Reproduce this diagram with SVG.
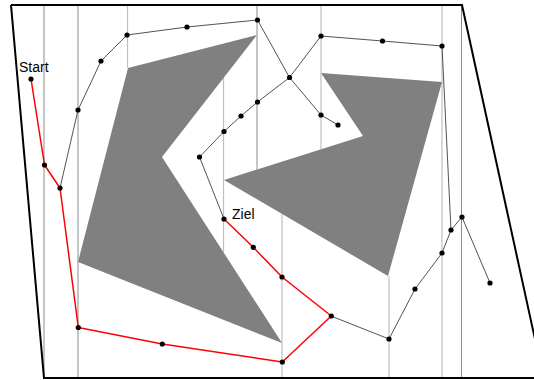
<svg xmlns="http://www.w3.org/2000/svg" width="534" height="380" viewBox="0 0 534 380">
<style>
.vd{stroke:#8c8c8c;stroke-width:1;fill:none}
.vl{stroke:#c0c0c0;stroke-width:1.2;fill:none}
.obs{fill:#808080;stroke:none}
.edge{stroke:#404040;stroke-width:0.9;fill:none}
.path{stroke:#ff0000;stroke-width:1.5;fill:none;stroke-linejoin:round}
.dot{fill:#000}
.lbl{font-family:"Liberation Sans",Arial,sans-serif;font-size:14px;fill:#000}
</style>
<rect width="534" height="380" fill="#fff"/>
<g id="decomposition">
<line class="vd" x1="44" y1="5" x2="44" y2="378"/>
<line class="vd" x1="78" y1="5" x2="78" y2="378"/>
<line class="vl" x1="127.5" y1="5" x2="127.5" y2="68"/>
<line class="vl" x1="223.5" y1="78" x2="223.5" y2="252"/>
<line class="vd" x1="257" y1="5" x2="257" y2="170"/>
<line class="vl" x1="282" y1="214" x2="282" y2="378"/>
<line class="vl" x1="321" y1="5" x2="321" y2="150"/>
<line class="vl" x1="389" y1="276" x2="389" y2="378"/>
<line class="vl" x1="442" y1="5" x2="442" y2="378"/>
<line class="vd" x1="461.5" y1="5" x2="461.5" y2="378"/>
</g>
<g id="obstacle1"><polygon class="obs" points="128,68 257,35 162,157 282,343 78,262"/></g>
<g id="obstacle2"><polygon class="obs" points="321,73 442,82 388,276 224,180 363,136"/></g>
<g id="boundary"><polyline points="11,5 462,5 545,385" fill="none" stroke="#000" stroke-width="2"/><polyline points="11,5 44,378 540,378" fill="none" stroke="#000" stroke-width="2"/></g>
<g id="connectors">
<polyline class="edge" points="60,188 78,110 101,61 127,35 187,27 257.5,20 289.5,77.5 321,115 338,125"/>
<polyline class="edge" points="289.5,77.5 321,36 382.5,41 442,46 451,230 462,217 490,283"/>
<polyline class="edge" points="451,230 442,253 415,289 389,339 331,316"/>
<polyline class="edge" points="289.5,77.5 257.5,102 241,116 224,131.5 199.5,157 224,219"/>
<polyline class="path" points="31,79 44.5,165 60,188 78.3,327.5 162.3,344 282.3,362 331.3,316 282,277 253.3,247.3 224,219"/>
</g>
<g id="nodes">
<circle class="dot" cx="31" cy="79" r="2.6"/>
<circle class="dot" cx="44.5" cy="165" r="2.6"/>
<circle class="dot" cx="60" cy="188" r="2.6"/>
<circle class="dot" cx="78" cy="110" r="2.6"/>
<circle class="dot" cx="101" cy="61" r="2.6"/>
<circle class="dot" cx="127" cy="35" r="2.6"/>
<circle class="dot" cx="187" cy="27" r="2.6"/>
<circle class="dot" cx="257.5" cy="20" r="2.6"/>
<circle class="dot" cx="289.5" cy="77.5" r="2.6"/>
<circle class="dot" cx="321" cy="115" r="2.6"/>
<circle class="dot" cx="338" cy="125" r="2.6"/>
<circle class="dot" cx="321" cy="36" r="2.6"/>
<circle class="dot" cx="382.5" cy="41" r="2.6"/>
<circle class="dot" cx="442" cy="46" r="2.6"/>
<circle class="dot" cx="451" cy="230" r="2.6"/>
<circle class="dot" cx="462" cy="217" r="2.6"/>
<circle class="dot" cx="490" cy="283" r="2.6"/>
<circle class="dot" cx="442" cy="253" r="2.6"/>
<circle class="dot" cx="415" cy="289" r="2.6"/>
<circle class="dot" cx="389" cy="339" r="2.6"/>
<circle class="dot" cx="331.3" cy="316" r="2.6"/>
<circle class="dot" cx="257.5" cy="102" r="2.6"/>
<circle class="dot" cx="241" cy="116" r="2.6"/>
<circle class="dot" cx="224" cy="131.5" r="2.6"/>
<circle class="dot" cx="199.5" cy="157" r="2.6"/>
<circle class="dot" cx="224" cy="219" r="2.6"/>
<circle class="dot" cx="253.3" cy="247.3" r="2.6"/>
<circle class="dot" cx="282" cy="277" r="2.6"/>
<circle class="dot" cx="282.3" cy="362" r="2.6"/>
<circle class="dot" cx="162.3" cy="344" r="2.6"/>
<circle class="dot" cx="78.3" cy="327.5" r="2.6"/>
</g>
<g id="labels">
<text class="lbl" x="19" y="72">Start</text>
<text class="lbl" x="232" y="219">Ziel</text>
</g>
</svg>
